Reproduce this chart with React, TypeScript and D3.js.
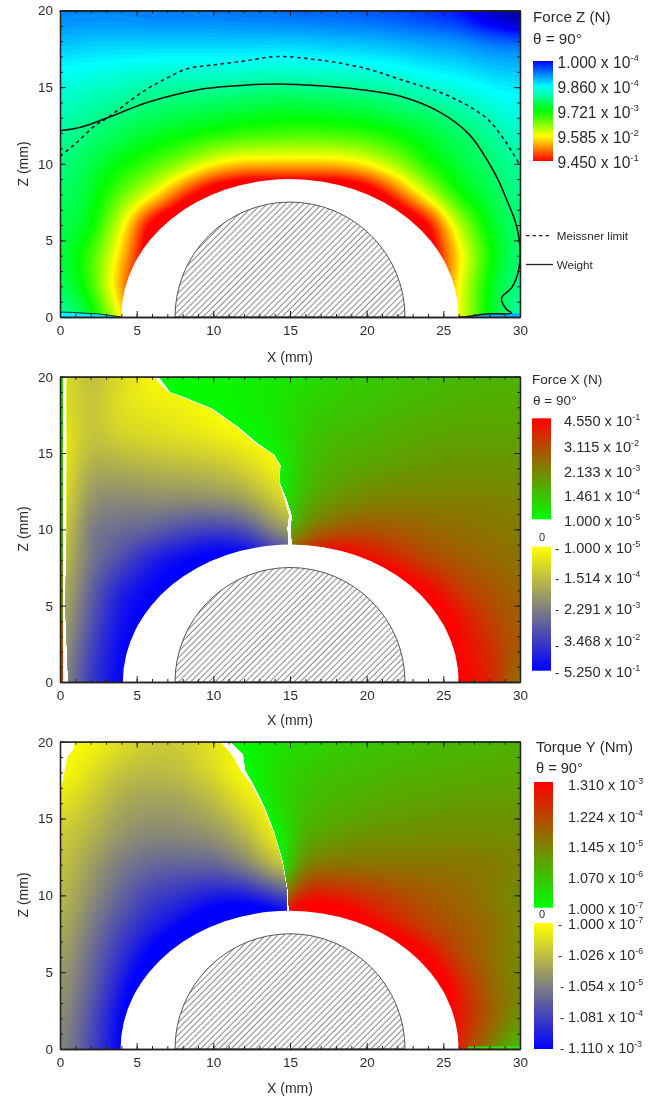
import * as React from 'react';
import { useRef, useEffect } from 'react';
import * as d3 from 'd3';

// field samples are log10 of the value, rows from z = 20 down to z = 0 (2 mm apart)
// nodes under the white ellipse only steer the colour at its edge
const rowZ = [20, 18, 16, 14, 12, 10, 8, 6, 4, 2, 0];
const colsAll = d3.range(0, 31, 2);
const colsLeft = d3.range(0, 17, 2);
const colsForceXRight = d3.range(6, 31, 2);
const colsTorqueRight = d3.range(10, 31, 2);

const forceZLevels = [
  [-3.5, -3.5, -3.5, -3.55, -3.55, -3.55, -3.6, -3.6, -3.65, -3.65, -3.7, -3.75, -3.85, -3.95, -4.4, -4.8],
  [-3.25, -3.2, -3.2, -3.2, -3.2, -3.2, -3.2, -3.2, -3.2, -3.25, -3.25, -3.3, -3.35, -3.4, -3.5, -3.55],
  [-2.95, -2.9, -2.85, -2.8, -2.8, -2.8, -2.8, -2.75, -2.8, -2.8, -2.85, -2.9, -3, -3.05, -3.15, -3.2],
  [-2.75, -2.65, -2.55, -2.45, -2.4, -2.35, -2.3, -2.25, -2.25, -2.3, -2.35, -2.45, -2.55, -2.7, -2.85, -2.95],
  [-2.6, -2.45, -2.3, -2.15, -2.05, -1.95, -1.85, -1.8, -1.75, -1.8, -1.85, -2, -2.15, -2.35, -2.55, -2.8],
  [-2.5, -2.25, -2, -1.75, -1.45, -1, -0.8, -0.8, -0.8, -0.8, -1, -1.4, -1.95, -2.2, -2.4, -2.6],
  [-2.4, -2.15, -1.6, -1.1, -0.2, 0.5, 0.8, 0.8, 0.8, 0.8, 0.5, -0.3, -1.2, -2, -2.25, -2.55],
  [-2.3, -2.1, -1.1, 0.3, 0.8, 0.8, 0.8, 0.8, 0.8, 0.8, 0.8, 0.8, 0.2, -1.25, -2.1, -2.45],
  [-2.3, -1.75, -0.8, 0.4, 0.8, 0.8, 0.8, 0.8, 0.8, 0.8, 0.8, 0.8, 0.3, -0.8, -1.9, -2.5],
  [-2.4, -1.8, -0.55, 0.6, 0.8, 0.8, 0.8, 0.8, 0.8, 0.8, 0.8, 0.8, 0.3, -1, -2.1, -2.55],
  [-2.7, -2.2, -1, 0.6, 0.8, 0.8, 0.8, 0.8, 0.8, 0.8, 0.8, 0.8, 0.3, -1, -2.1, -2.7],
];

const forceXNegLevels = [
  [-4.5, -3.7, -4.3, -4.9, -5, -5, -5, -5, -5],
  [-4.45, -3.8, -4.5, -4.6, -4.7, -5, -5.2, -5.2, -5.2],
  [-4.76, -3.8, -4.15, -4.3, -4.45, -4.6, -4.85, -5.1, -5.2],
  [-4.75, -3.35, -3.45, -3.6, -3.7, -3.8, -4.15, -4.75, -5],
  [-4.6, -2.9, -2.8, -2.9, -2.9, -3, -3.25, -4.05, -5],
  [-4.4, -2.4, -2.25, -2.1, -1.7, -1.45, -1.7, -2.9, -3.6],
  [-4.05, -2.4, -1.7, -0.75, -0.28, 0.2, 0.2, -0.75, -1.7],
  [-3.8, -2.05, -0.75, -0.28, 0.2, 0.2, 0.2, 0.2, 0.2],
  [-3.6, -1.8, -0.5, -0.1, 0.2, 0.2, 0.2, 0.2, 0.2],
  [-3.35, -1.45, -0.28, 0.2, 0.2, 0.2, 0.2, 0.2, 0.2],
  [-3.1, -1.3, -0.28, 0.2, 0.2, 0.2, 0.2, 0.2, 0.2],
];

const forceXPosLevels = [
  [-5, -4.9, -4.8, -4.7, -4.6, -4.45, -4.15, -4.05, -3.9, -3.8, -3.7, -3.6, -3.6],
  [-5.1, -5, -4.9, -4.75, -4.55, -4.15, -4, -3.85, -3.7, -3.6, -3.5, -3.45, -3.45],
  [-5.2, -5.2, -5.1, -4.9, -4.65, -4, -3.7, -3.6, -3.45, -3.3, -3.25, -3.25, -3.25],
  [-5.3, -5.3, -5.3, -5.2, -5, -3.85, -3.45, -3.3, -3.15, -3.05, -3, -3, -3.05],
  [-5.3, -5.3, -5.3, -5.3, -5, -3.6, -3.05, -2.8, -2.65, -2.65, -2.65, -2.65, -2.75],
  [-5.3, -5.3, -5.3, -5.3, -5, -2.75, -2.1, -1.85, -2, -2.2, -2.3, -2.45, -2.6],
  [0.6, 0.6, 0.6, 0.6, -2, -0.34, 0.6, -0.4, -1.05, -1.65, -2, -2.2, -2.45],
  [0.6, 0.6, 0.6, 0.6, 0.6, 0.6, 0.6, 0.6, 0.6, -0.34, -1.35, -1.85, -2.2],
  [0.6, 0.6, 0.6, 0.6, 0.6, 0.6, 0.6, 0.6, 0.6, 0.6, -0.5, -1.5, -2.1],
  [0.6, 0.6, 0.6, 0.6, 0.6, 0.6, 0.6, 0.6, 0.6, 0.6, -0.34, -1.05, -2.1],
  [0.6, 0.6, 0.6, 0.6, 0.6, 0.6, 0.6, 0.6, 0.6, 0.6, -0.34, -0.8, -2.7],
];

const torqueNegLevels = [
  [-7, -6.9, -6.5, -6.2, -6.2, -6.6, -7, -7, -7],
  [-7, -6.5, -6, -5.85, -6, -6.4, -7, -7, -7],
  [-6.6, -6.1, -5.6, -5.45, -5.5, -5.85, -6.5, -7, -7],
  [-6.2, -5.8, -5.3, -5.1, -5.15, -5.3, -5.8, -6.8, -7],
  [-6.1, -5.45, -4.85, -4.55, -4.5, -4.55, -5, -6, -6.6],
  [-6, -5.2, -4.5, -3.95, -3.7, -3.35, -3.35, -3.95, -4.55],
  [-5.8, -4.9, -4.1, -3.45, -2.95, -2.15, -1.75, -1.75, -2.95],
  [-5.6, -4.65, -3.7, -2.75, -1.75, -1.75, -1.75, -1.75, -1.75],
  [-5.45, -4.5, -3.3, -2.15, -1.75, -1.75, -1.75, -1.75, -1.75],
  [-5.3, -4.25, -2.95, -1.75, -1.75, -1.75, -1.75, -1.75, -1.75],
  [-5.2, -4.1, -2.9, -1.75, -1.75, -1.75, -1.75, -1.75, -1.75],
];

const torquePosLevels = [
  [-7, -6.9, -6.6, -6.4, -6.2, -6.1, -6, -5.9, -5.85, -5.8, -5.75],
  [-7.2, -7, -6.4, -6.1, -5.95, -5.85, -5.75, -5.7, -5.65, -5.6, -5.55],
  [-7.2, -7.2, -6.5, -5.95, -5.75, -5.65, -5.5, -5.45, -5.35, -5.35, -5.35],
  [-7.2, -7.2, -7, -5.65, -5.45, -5.25, -5.2, -5.15, -5.1, -5.15, -5.15],
  [-7.2, -7.2, -7.4, -4.95, -4.75, -4.75, -4.75, -4.75, -4.75, -4.8, -5],
  [-7.2, -7.2, -5.8, -3.2, -3.4, -3.7, -4.05, -4.3, -4.5, -4.85, -5.15],
  [-1.6, -1.6, -1.6, -1.2, -1.6, -2.7, -3.4, -4.05, -4.3, -4.55, -5.15],
  [-1.6, -1.6, -1.6, -1.6, -1.6, -1.6, -1.6, -2.88, -4.05, -4.6, -5.15],
  [-1.6, -1.6, -1.6, -1.6, -1.6, -1.6, -1.6, -1.6, -3.3, -4.45, -5.15],
  [-1.6, -1.6, -1.6, -1.6, -1.6, -1.6, -1.6, -1.6, -3.2, -4.3, -5.25],
  [-1.6, -1.6, -1.6, -1.6, -1.6, -1.6, -1.6, -1.6, -3.5, -4.9, -6.2],
];

// curves, [x, z] in mm
const weightLine: [number, number][] = [
  [0, 12.15], [1.4, 12.4], [3.1, 13], [5.4, 13.9], [7.3, 14.45], [9.1, 14.85], [11.3, 15.07], [14.1, 15.2], [17.4, 15.05],
  [19.5, 14.85], [22.2, 14.4], [24.8, 13.35], [26.7, 11.9], [28, 10], [28.6, 8.9], [29.15, 7.6], [29.7, 6.2],
  [29.98, 4.75], [29.9, 3], [29.45, 1.9], [28.8, 1.25], [29.1, 0.52], [29.45, 0.26], [27.8, 0.2], [26.5, 0.02], [26, 0],
];
const meissnerLine: [number, number][] = [
  [0, 10.5], [1, 11.3], [2.3, 12.5], [3.1, 13], [5.4, 14.7], [7, 15.6], [8.3, 16.2], [10, 16.45], [12, 16.7],
  [14.1, 17], [17.4, 16.7], [20, 16.2], [22.2, 15.5], [25.4, 14.4], [28, 12.8], [30, 9.9],
];
const weightFootLeft: [number, number][] = [[0, 0.32], [0.8, 0.3], [1.5, 0.25], [2.5, 0.2], [3.3, 0.1], [4, 0]];
const weightFootRight: [number, number][] = [[26.5, 0.02], [27.8, 0.2], [29.45, 0.26], [30, 0.25]];

// edges of the white gap between the positive and negative sides
const forceXGapLeft: [number, number][] = [
  [6.1, 20], [7, 19], [8, 18.6], [9.8, 17.9], [11.5, 16.7], [12.75, 15.6], [13.85, 14.9], [14.3, 14.2],
  [14.25, 13.1], [14.6, 12], [14.9, 10.9], [14.8, 10.1], [14.85, 8.8],
];
const forceXGapRight: [number, number][] = [
  [6.45, 20], [7.2, 19], [8.15, 18.65], [9.9, 17.95], [11.6, 16.75], [12.9, 15.65], [14, 14.9], [14.42, 14.2],
  [14.35, 13.1], [14.8, 12], [15.15, 10.9], [15.1, 10.1], [15.15, 8.8],
];
const forceXOuterEdge: [number, number][] = [[0.45, 20], [0.45, 10], [0.35, 5], [0.55, 0]];
const forceXStripZ = [20, 16, 12, 8, 4, 2, 0];
const forceXStripLevels = [-4.4, -4.2, -4, -3.6, -3, -2, -1.5];

const torqueGapLeft: [number, number][] = [
  [10.44, 20], [11.3, 19], [11.74, 18.15], [12.4, 17.3], [13.25, 15.7], [13.9, 14.1], [14.46, 12.2], [14.8, 10.2], [14.8, 8.8],
];
const torqueGapRight: [number, number][] = [
  [11.1, 20], [11.96, 19.2], [12.1, 18.15], [12.6, 17.3], [13.4, 15.7], [14, 14.1], [14.57, 12.2], [14.9, 10.2], [14.95, 8.8],
];
const torqueOuterEdge: [number, number][] = [[1, 20], [0.9, 19.5], [0.5, 19], [0.3, 18], [0.1, 17], [0, 16.5], [0, 0]];
const torqueFoot: [number, number][] = [[26.6, 0.1], [30, 0.12]];

const xTicks = [0, 5, 10, 15, 20, 25, 30];
const zTicks = [0, 5, 10, 15, 20];
const xMinor = d3.range(0, 31);
const zMinor = d3.range(0, 21);

const forceZLabels = ['1.000', '9.860', '9.721', '9.585', '9.450'];
const forceZExps = ['-4', '-4', '-3', '-2', '-1'];
const forceZBase = [68, 93, 118, 143, 168];
const forceXLabels = ['4.550', '3.115', '2.133', '1.461', '1.000'];
const forceXExps = ['-1', '-2', '-3', '-4', '-5'];
const forceXBase = [426, 451.7, 476.7, 501, 525.7];
const forceXNegLabels = ['1.000', '1.514', '2.291', '3.468', '5.250'];
const forceXNegExps = ['-5', '-4', '-3', '-2', '-1'];
const forceXNegBase = [552.7, 583, 614, 646, 676.7];
const torqueLabels = ['1.310', '1.224', '1.145', '1.070', '1.000'];
const torqueExps = ['-3', '-4', '-5', '-6', '-7'];
const torqueBase = [790, 821.7, 851.7, 883, 914];
const torqueNegLabels = ['1.000', '1.026', '1.054', '1.081', '1.110'];
const torqueNegExps = ['-7', '-6', '-5', '-4', '-3'];
const torqueNegBase = [929, 960, 991, 1022, 1053];

const FONT = '"Liberation Sans", Arial, sans-serif';
const INK = '#2b2b2b';

const rainbow = d3.scaleLinear<string>()
  .domain([-5, -4, -3, -2, -1, -0.024])
  .range(['#000050', '#0000ff', '#00ffff', '#00ff00', '#ffff00', '#ff0000'])
  .clamp(true);
const forceXPosColor = d3.scaleLinear<string>().domain([-5, -0.342]).range(['#00ff00', '#ff0000']).clamp(true);
const forceXNegColor = d3.scaleLinear<string>().domain([-5, -0.28]).range(['#ffff00', '#0000ff']).clamp(true);
const torquePosColor = d3.scaleLinear<string>().domain([-7, -2.883]).range(['#00ff00', '#ff0000']).clamp(true);
const torqueNegColor = d3.scaleLinear<string>().domain([-7, -2.955]).range(['#ffff00', '#0000ff']).clamp(true);

const CELL = 0.125; // mm, resampling step of the field
const NX = 30 / CELL;
const NZ = 20 / CELL;

function sampleField(cols: number[], levels: number[][]) {
  const values = new Float64Array(NX * NZ);
  const colIndex = d3.scaleLinear().domain([cols[0], cols[cols.length - 1]]).range([0, cols.length - 1]).clamp(true);
  const rowIndex = d3.scaleLinear().domain([20, 0]).range([0, rowZ.length - 1]).clamp(true);
  for (let j = 0; j < NZ; j++) {
    const r = rowIndex(20 - (j + 0.5) * CELL);
    const r0 = Math.min(Math.floor(r), rowZ.length - 2);
    for (let i = 0; i < NX; i++) {
      const c = colIndex((i + 0.5) * CELL);
      const c0 = Math.min(Math.floor(c), cols.length - 2);
      const top = d3.interpolateNumber(levels[r0][c0], levels[r0][c0 + 1])(c - c0);
      const bottom = d3.interpolateNumber(levels[r0 + 1][c0], levels[r0 + 1][c0 + 1])(c - c0);
      values[j * NX + i] = d3.interpolateNumber(top, bottom)(r - r0);
    }
  }
  d3.blur2({ data: values, width: NX, height: NZ }, 4);
  return values;
}

type Field = {
  cols: number[];
  levels: number[][];
  color: d3.ScaleLinear<string, string>;
  clip?: [number, number][];
};

function drawField(g: any, field: Field, x: any, y: any, id: string) {
  const [lo, hi] = field.color.domain().length > 2
    ? [-4.9, -0.024]
    : field.color.domain();
  const clipped = g.append('g');
  if (field.clip) {
    g.append('clipPath').attr('id', id).append('path')
      .attr('d', d3.line().x((d: any) => x(d[0])).y((d: any) => y(d[1]))(field.clip) + 'Z');
    clipped.attr('clip-path', `url(#${id})`);
  }
  clipped.append('rect')
    .attr('x', x(0)).attr('y', y(20))
    .attr('width', x(30) - x(0)).attr('height', y(0) - y(20))
    .attr('fill', field.color(lo));
  const thresholds = d3.range(lo, hi + 1e-6, (hi - lo) / 100);
  const contours = d3.contours().size([NX, NZ]).thresholds(thresholds)(sampleField(field.cols, field.levels) as any);
  const path = d3.geoPath(d3.geoTransform({
    point(px: number, py: number) {
      (this as any).stream.point(x(px * CELL), y(20 - py * CELL));
    },
  }));
  clipped.selectAll('path.band').data(contours).join('path')
    .attr('class', 'band')
    .attr('d', path as any)
    .attr('fill', (d: any) => field.color(d.value));
}

function drawAxes(g: any, x: any, y: any, top: number, bottom: number, left: number, right: number) {
  const majorBottom = d3.axisBottom(x).tickValues(xTicks).tickSize(-6).tickSizeOuter(0).tickPadding(8).tickFormat(d3.format('d') as any);
  const minorBottom = d3.axisBottom(x).tickValues(xMinor).tickSize(-3).tickSizeOuter(0).tickFormat(() => '');
  const majorTop = d3.axisTop(x).tickValues(xTicks).tickSize(-6).tickSizeOuter(0).tickFormat(() => '');
  const minorTop = d3.axisTop(x).tickValues(xMinor).tickSize(-3).tickSizeOuter(0).tickFormat(() => '');
  const majorLeft = d3.axisLeft(y).tickValues(zTicks).tickSize(-6).tickSizeOuter(0).tickPadding(7).tickFormat(d3.format('d') as any);
  const minorLeft = d3.axisLeft(y).tickValues(zMinor).tickSize(-3).tickSizeOuter(0).tickFormat(() => '');
  const majorRight = d3.axisRight(y).tickValues(zTicks).tickSize(-6).tickSizeOuter(0).tickFormat(() => '');
  const minorRight = d3.axisRight(y).tickValues(zMinor).tickSize(-3).tickSizeOuter(0).tickFormat(() => '');
  const parts: [any, number, number][] = [
    [minorBottom, 0, bottom], [majorBottom, 0, bottom], [minorTop, 0, top], [majorTop, 0, top],
    [minorLeft, left, 0], [majorLeft, left, 0], [minorRight, right, 0], [majorRight, right, 0],
  ];
  parts.forEach(([axis, dx, dy]) => {
    const a = g.append('g').attr('transform', `translate(${dx},${dy})`).call(axis);
    a.select('.domain').attr('stroke', '#222').attr('stroke-width', 1.3);
    a.selectAll('.tick line').attr('stroke', '#222').attr('stroke-width', 1);
    a.selectAll('text').attr('fill', INK).attr('font-family', FONT).attr('font-size', 13.5);
  });
}

function addPower(g: any, px: number, py: number, size: number, value: string, exp: string) {
  const t = g.append('text').attr('x', px).attr('y', py).attr('fill', INK)
    .attr('font-family', FONT).attr('font-size', size);
  t.append('tspan').text(`${value} x 10`);
  t.append('tspan').attr('dy', -size * 0.42).attr('font-size', size * 0.62).text(exp);
}

function addText(g: any, px: number, py: number, size: number, value: string) {
  return g.append('text').attr('x', px).attr('y', py).attr('fill', INK)
    .attr('font-family', FONT).attr('font-size', size).text(value);
}

function addColorBar(g: any, id: string, px: number, width: number, y0: number, y1: number, color: any, lowAtTop: boolean) {
  const [lo, hi] = color.domain().length > 2 ? [-4, -0.024] : color.domain();
  const [first, last] = lowAtTop ? [lo, hi] : [hi, lo];
  const grad = g.append('linearGradient').attr('id', id).attr('x1', 0).attr('y1', 0).attr('x2', 0).attr('y2', 1);
  d3.range(0, 1.001, 0.05).forEach((f: number) => {
    grad.append('stop').attr('offset', f).attr('stop-color', color(first + (last - first) * f));
  });
  g.append('rect').attr('x', px).attr('y', y0).attr('width', width).attr('height', y1 - y0).attr('fill', `url(#${id})`);
}

function drawPanel(g: any, opts: {
  id: string; top: number; bottom: number; fields: Field[]; ellipse: [number, number];
}) {
  const x = d3.scaleLinear().domain([0, 30]).range([60, 520]);
  const y = d3.scaleLinear().domain([0, 20]).range([opts.bottom, opts.top]);
  opts.fields.forEach((f, i) => drawField(g, f, x, y, `${opts.id}-clip-${i}`));

  const [ex0, ex1] = opts.ellipse;
  const cy = y(0);
  const rx = (x(ex1) - x(ex0)) / 2;
  g.append('path')
    .attr('d', `M${x(ex0)},${cy}A${rx},${y(0) - y(9)} 0 0 1 ${x(ex1)},${cy}Z`)
    .attr('fill', '#fff');
  g.append('path')
    .attr('d', `M${x(7.5)},${cy}A${(x(22.5) - x(7.5)) / 2},${y(0) - y(7.5)} 0 0 1 ${x(22.5)},${cy}Z`)
    .attr('fill', 'url(#hatch)')
    .attr('stroke', '#555')
    .attr('stroke-width', 1);
  return { x, y };
}

const App = () => {
  const svgRef = useRef<SVGSVGElement>(null);

  useEffect(() => {
    const svg = d3.select(svgRef.current);
    svg.selectAll('*').remove();
    const defs: any = svg.append('defs');
    defs.append('filter').attr('id', 'soft').attr('filterUnits', 'userSpaceOnUse')
      .attr('x', 0).attr('y', 0).attr('width', 663).attr('height', 1102)
      .attr('color-interpolation-filters', 'sRGB')
      .append('feGaussianBlur').attr('stdDeviation', 0.4);
    const root: any = svg.append('g').attr('filter', 'url(#soft)');

    const hatch = defs.append('pattern').attr('id', 'hatch').attr('patternUnits', 'userSpaceOnUse')
      .attr('width', 4.3).attr('height', 4.3).attr('patternTransform', 'rotate(-45)');
    hatch.append('line').attr('x1', 0).attr('x2', 4.3).attr('y1', 2).attr('y2', 2)
      .attr('stroke', '#777').attr('stroke-width', 0.9);

    const curve = d3.curveCatmullRom.alpha(0.5);
    const lineOf = (x: any, y: any) => d3.line().x((d: any) => x(d[0])).y((d: any) => y(d[1]));

    // Force Z
    const p1 = root.append('g');
    const { x: x1, y: y1 } = drawPanel(p1, {
      id: 'fz', top: 10.5, bottom: 317, ellipse: [4, 26],
      fields: [{ cols: colsAll, levels: forceZLevels, color: rainbow }],
    });
    const footLine = lineOf(x1, y1);
    p1.append('path').attr('d', footLine(weightFootLeft) + `L${x1(0)},${y1(0)}Z`).attr('fill', rainbow(-3.05));
    p1.append('path').attr('d', footLine(weightFootRight) + `L${x1(30)},${y1(0)}L${x1(26.5)},${y1(0)}Z`).attr('fill', rainbow(-3.3));
    p1.append('path').attr('d', footLine(weightFootLeft)).attr('fill', 'none').attr('stroke', '#123').attr('stroke-width', 1);
    p1.append('path').attr('d', lineOf(x1, y1).curve(curve)(weightLine)).attr('fill', 'none').attr('stroke', '#111').attr('stroke-width', 1.5);
    p1.append('path').attr('d', lineOf(x1, y1).curve(curve)(meissnerLine)).attr('fill', 'none').attr('stroke', '#111')
      .attr('stroke-width', 1.5).attr('stroke-dasharray', '3.5 3.5');
    drawAxes(p1, x1, y1, 10.5, 317, 60, 520);
    addText(p1, 533, 22, 15.2, 'Force Z (N)');
    addText(p1, 533, 44, 15.2, 'θ = 90°');
    addColorBar(p1, 'bar-fz', 533, 20, 61, 161, rainbow, true);
    forceZLabels.forEach((v, i) => addPower(p1, 557.5, forceZBase[i], 15.6, v, forceZExps[i]));
    p1.append('line').attr('x1', 526).attr('x2', 551).attr('y1', 235.7).attr('y2', 235.7)
      .attr('stroke', '#222').attr('stroke-width', 1.3).attr('stroke-dasharray', '3.5 3');
    p1.append('line').attr('x1', 526).attr('x2', 553).attr('y1', 264.5).attr('y2', 264.5)
      .attr('stroke', '#222').attr('stroke-width', 1.3);
    addText(p1, 556.7, 239.5, 11.7, 'Meissner limit');
    addText(p1, 556.7, 268.5, 11.7, 'Weight');

    // Force X
    const p2 = root.append('g');
    const leftClip2: [number, number][] = [...forceXOuterEdge, [15, 0], ...[...forceXGapLeft].reverse()];
    const rightClip2: [number, number][] = [...forceXGapRight, [15, 0], [30, 0], [30, 20]];
    const { x: x2, y: y2 } = drawPanel(p2, {
      id: 'fx', top: 376.7, bottom: 682, ellipse: [4.1, 26],
      fields: [
        { cols: colsLeft, levels: forceXNegLevels, color: forceXNegColor, clip: leftClip2 },
        { cols: colsForceXRight, levels: forceXPosLevels, color: forceXPosColor, clip: rightClip2 },
      ],
    });
    forceXStripZ.slice(1).forEach((z, i) => {
      p2.append('rect').attr('x', x2(0)).attr('y', y2(forceXStripZ[i]))
        .attr('width', x2(0.2) - x2(0)).attr('height', y2(z) - y2(forceXStripZ[i]) + 0.5)
        .attr('fill', forceXPosColor(forceXStripLevels[i + 1]));
    });
    drawAxes(p2, x2, y2, 376.7, 682, 60, 520);
    addText(p2, 532, 384, 13.6, 'Force X (N)');
    addText(p2, 533, 405, 13.6, 'θ = 90°');
    addColorBar(p2, 'bar-fx', 532, 19, 418.3, 519.3, forceXPosColor, false);
    addColorBar(p2, 'bar-fxn', 532, 19, 546.7, 670.7, forceXNegColor, true);
    forceXLabels.forEach((v, i) => addPower(p2, 564, forceXBase[i], 14.6, v, forceXExps[i]));
    forceXNegLabels.forEach((v, i) => addPower(p2, 564, forceXNegBase[i], 14.6, v, forceXNegExps[i]));
    addText(p2, 539, 541, 11, '0');
    forceXNegBase.forEach((b, i) => addText(p2, 555, i === 3 ? b + 4 : b, 13, '-'));

    // Torque Y
    const p3 = root.append('g');
    const leftClip3: [number, number][] = [...torqueOuterEdge, [15, 0], ...[...torqueGapLeft].reverse()];
    const rightClip3: [number, number][] = [...torqueGapRight, [15, 0], [30, 0], [30, 20]];
    const { x: x3, y: y3 } = drawPanel(p3, {
      id: 'ty', top: 741.7, bottom: 1049, ellipse: [3.95, 26],
      fields: [
        { cols: colsLeft, levels: torqueNegLevels, color: torqueNegColor, clip: leftClip3 },
        { cols: colsTorqueRight, levels: torquePosLevels, color: torquePosColor, clip: rightClip3 },
      ],
    });
    p3.append('path').attr('d', lineOf(x3, y3)(torqueFoot)).attr('stroke', '#30e010').attr('stroke-width', 2).attr('fill', 'none');
    drawAxes(p3, x3, y3, 741.7, 1049, 60, 520);
    addText(p3, 536, 751.7, 15, 'Torque Y (Nm)');
    addText(p3, 536, 773, 14.6, 'θ = 90°');
    addColorBar(p3, 'bar-ty', 534, 19, 782, 907.7, torquePosColor, false);
    addColorBar(p3, 'bar-tyn', 534, 19, 923, 1049, torqueNegColor, true);
    torqueLabels.forEach((v, i) => addPower(p3, 568, torqueBase[i], 14.4, v, torqueExps[i]));
    torqueNegLabels.forEach((v, i) => addPower(p3, 568, torqueNegBase[i], 14.4, v, torqueNegExps[i]));
    addText(p3, 539, 918, 11, '0');
    torqueNegBase.forEach((b, i) => addText(p3, i < 2 ? 558 : 560, b, 13, '-'));

    // axis titles
    [[362, 164], [725, 529], [1093, 895]].forEach(([xBase, zMid], i) => {
      const pg = [p1, p2, p3][i];
      addText(pg, 290, xBase, 14, 'X (mm)').attr('text-anchor', 'middle');
      addText(pg, 0, 0, 14, 'Z (mm)').attr('text-anchor', 'middle')
        .attr('transform', `translate(28,${zMid}) rotate(-90)`);
    });
  }, []);

  return (
    <svg ref={svgRef} width={663} height={1102} style={{ position: 'absolute', left: 0, top: 0, display: 'block' }} />
  );
};

export default App;
